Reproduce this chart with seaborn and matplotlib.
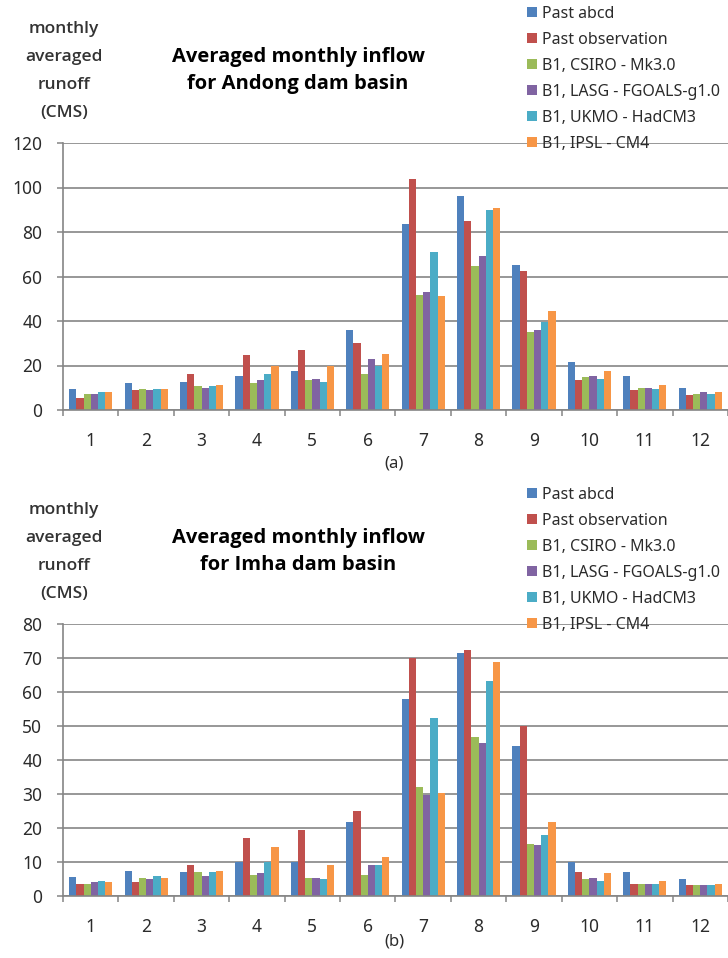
import numpy as np
import pandas as pd
import seaborn as sns
import matplotlib.pyplot as plt
from matplotlib.patches import Patch

# categories / series
months = [str(m) for m in range(1, 13)]
series = ["Past abcd", "Past observation", "B1, CSIRO - Mk3.0",
          "B1, LASG - FGOALS-g1.0", "B1, UKMO - HadCM3", "B1, IPSL - CM4"]
colors = ["#4F81BD", "#C0504D", "#9BBB59", "#8064A2", "#4BACC6", "#F79646"]

# (a) Andong dam basin, CMS
andong_abcd = [9.6, 12.2, 12.8, 15.3, 17.4, 35.9, 83.8, 96.4, 65.1, 21.4, 15.3, 10.1]
andong_obs = [5.6, 8.9, 16.1, 24.8, 26.8, 30.1, 103.6, 85.1, 62.6, 13.5, 8.9, 6.8]
andong_csiro = [7.4, 9.5, 10.7, 12.2, 13.4, 16.1, 51.9, 64.5, 35.2, 14.7, 10.1, 7.4]
andong_lasg = [7.4, 8.9, 9.9, 13.4, 14.1, 22.7, 53.1, 69.0, 35.9, 15.3, 10.1, 8.1]
andong_ukmo = [8.1, 9.5, 10.7, 16.1, 12.8, 19.8, 71.1, 89.8, 39.7, 14.1, 9.5, 7.4]
andong_ipsl = [8.1, 9.5, 11.4, 19.8, 19.8, 25.3, 51.3, 91.0, 44.7, 17.4, 11.4, 8.1]

# (b) Imha dam basin, CMS
imha_abcd = [5.5, 7.5, 7.0, 10.0, 10.0, 21.7, 58.0, 71.4, 44.2, 10.0, 7.0, 5.1]
imha_obs = [3.5, 4.1, 9.2, 17.1, 19.3, 24.9, 70.0, 72.3, 50.1, 7.0, 3.5, 3.2]
imha_csiro = [3.5, 5.4, 7.0, 6.2, 5.4, 6.2, 32.1, 46.7, 15.2, 4.9, 3.5, 3.2]
imha_lasg = [4.1, 4.9, 5.9, 6.7, 5.4, 9.2, 29.6, 45.0, 14.9, 5.4, 3.5, 3.2]
imha_ukmo = [4.5, 5.9, 7.0, 10.0, 4.9, 9.2, 52.4, 63.1, 17.8, 4.4, 3.5, 3.2]
imha_ipsl = [4.1, 5.4, 7.5, 14.5, 9.2, 11.5, 30.4, 68.8, 21.7, 6.7, 4.5, 3.6]

andong = [andong_abcd, andong_obs, andong_csiro, andong_lasg, andong_ukmo, andong_ipsl]
imha = [imha_abcd, imha_obs, imha_csiro, imha_lasg, imha_ukmo, imha_ipsl]

sns.set_style("white")
plt.rcParams['font.family'] = ['Noto Sans', 'DejaVu Sans']
BOLD_FONT = ['Open Sans', 'DejaVu Sans']

GRID = "#858585"
TXT = "#2b2b2b"

fig = plt.figure(figsize=(7.28, 9.58), dpi=100)
W, H = 728.0, 958.0


def fx(px):
    return px / W


def fy(py):
    return 1 - py / H


def panel(values, top, bottom, ymax, ystep, title, dy):
    df = pd.DataFrame({
        "month": np.tile(months, len(series)),
        "series": np.repeat(series, len(months)),
        "runoff": np.concatenate(values),
    })
    ax = fig.add_axes([fx(63), fy(bottom), 1 - fx(63), (bottom - top) / H])
    sns.barplot(data=df, x="month", y="runoff", hue="series", hue_order=series,
                palette=colors, saturation=1, width=0.78, legend=False, ax=ax,
                linewidth=0)
    ax.set_xlim(-0.5, 11.5)
    ax.set_ylim(0, ymax)
    ax.set_yticks(np.arange(0, ymax + 1, ystep))
    ax.grid(axis="y", color=GRID, lw=1.2)
    ax.set_axisbelow(True)
    ax.set_xlabel("")
    ax.set_ylabel("")
    for s in ["top", "right"]:
        ax.spines[s].set_visible(False)
    for s in ["left", "bottom"]:
        ax.spines[s].set_color(GRID)
        ax.spines[s].set_linewidth(1.2)
    ax.tick_params(axis="y", left=True, length=4, color=GRID, width=1.1,
                   labelsize=12.5, labelcolor=TXT, pad=11)
    ax.tick_params(axis="x", bottom=False, labelsize=12.5, labelcolor=TXT, pad=12)
    ax.set_xticks(np.arange(-0.5, 12, 1), minor=True)
    ax.tick_params(axis="x", which="minor", bottom=True, length=4, color=GRID, width=1.1)

    # y label block
    for i, line in enumerate(["monthly", "averaged", "runoff", "(CMS)"]):
        fig.text(fx(64), fy(29 + dy + i * 28), line, ha="center", va="center",
                 fontsize=12.5, fontweight="semibold", family=BOLD_FONT,
                 color="#333333")
    fig.text(fx(298), fy(57 + dy), title[0], ha="center", va="center",
             fontsize=14.5, fontweight="bold", family=BOLD_FONT, color="black")
    fig.text(fx(298), fy(84 + dy), title[1], ha="center", va="center",
             fontsize=14.5, fontweight="bold", family=BOLD_FONT, color="black")

    handles = [Patch(facecolor=c, edgecolor="none") for c in colors]
    fig.legend(handles, series, loc="upper left",
               bbox_to_anchor=(fx(527), fy(6 + dy)), frameon=False,
               fontsize=11.5, handlelength=0.6, handleheight=0.6,
               handletextpad=0.35, labelspacing=0.62, borderpad=0,
               borderaxespad=0, labelcolor=TXT)
    return ax


panel(andong, 143, 410, 120, 20,
      ["Averaged monthly inflow", "for Andong dam basin"], 0)
fig.text(fx(394), fy(464), "(a)", ha="center", va="center", fontsize=12, color=TXT)

panel(imha, 624, 896, 80, 10,
      ["Averaged monthly inflow", "for Imha dam basin"], 481)
fig.text(fx(394), fy(941), "(b)", ha="center", va="center", fontsize=12, color=TXT)

fig.savefig("out.png", dpi=100)
